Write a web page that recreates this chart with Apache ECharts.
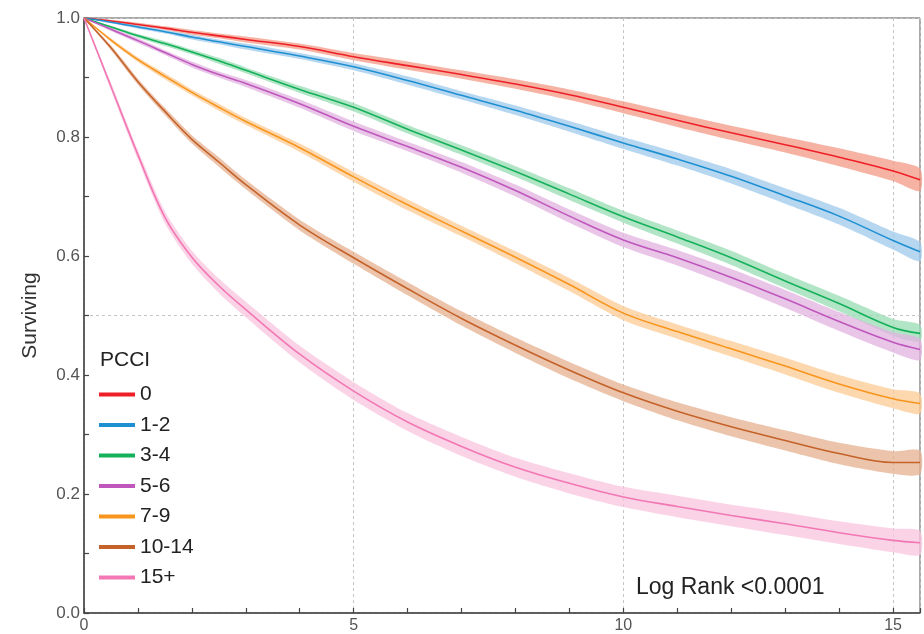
<!DOCTYPE html>
<html>
<head>
<meta charset="utf-8">
<script src="https://cdn.jsdelivr.net/npm/echarts@6/dist/echarts.min.js"></script>
<style>
html,body{margin:0;padding:0;background:#fff;}
#chart{width:924px;height:634px;}
</style>
</head>
<body>
<div id="chart"></div>
<script>
// Years of follow-up (x positions of the read-off points)
const xs = [0, 0.5, 1, 1.5, 2, 2.5, 3, 4, 5, 6, 7, 8, 9, 10, 11, 12, 13, 14, 15, 15.5];

// Group names (PCCI)
const groups = ['0', '1-2', '3-4', '5-6', '7-9', '10-14', '15+'];

// Survival estimates per group
const surv0   = [1, 0.995, 0.989, 0.983, 0.976, 0.970, 0.964, 0.952, 0.935, 0.920, 0.905, 0.889, 0.871, 0.850, 0.828, 0.807, 0.787, 0.766, 0.743, 0.728];
const surv12  = [1, 0.993, 0.985, 0.977, 0.968, 0.960, 0.952, 0.936, 0.918, 0.895, 0.870, 0.845, 0.818, 0.790, 0.763, 0.734, 0.701, 0.667, 0.626, 0.607];
const surv34  = [1, 0.985, 0.970, 0.957, 0.943, 0.928, 0.912, 0.880, 0.850, 0.813, 0.778, 0.742, 0.704, 0.666, 0.632, 0.597, 0.558, 0.520, 0.480, 0.470];
const surv56  = [1, 0.981, 0.962, 0.942, 0.922, 0.905, 0.890, 0.856, 0.818, 0.784, 0.749, 0.710, 0.667, 0.627, 0.597, 0.564, 0.528, 0.490, 0.455, 0.443];
const surv79  = [1, 0.963, 0.930, 0.902, 0.875, 0.850, 0.826, 0.782, 0.733, 0.686, 0.642, 0.598, 0.552, 0.504, 0.473, 0.444, 0.415, 0.385, 0.360, 0.352];
const surv1014= [1, 0.950, 0.893, 0.843, 0.796, 0.758, 0.720, 0.652, 0.597, 0.545, 0.495, 0.450, 0.408, 0.370, 0.339, 0.313, 0.290, 0.268, 0.253, 0.253];
const surv15p = [1, 0.885, 0.770, 0.665, 0.598, 0.550, 0.510, 0.435, 0.373, 0.321, 0.280, 0.245, 0.218, 0.195, 0.179, 0.164, 0.150, 0.135, 0.122, 0.118];

// Confidence-band half-widths per group
const ci0   = [0, 0.002, 0.003, 0.003, 0.004, 0.004, 0.005, 0.005, 0.006, 0.007, 0.007, 0.008, 0.009, 0.010, 0.011, 0.012, 0.013, 0.015, 0.017, 0.019];
const ci12  = [0, 0.002, 0.003, 0.003, 0.004, 0.004, 0.005, 0.005, 0.006, 0.007, 0.007, 0.008, 0.009, 0.010, 0.011, 0.012, 0.013, 0.014, 0.015, 0.016];
const ci34  = [0, 0.002, 0.003, 0.004, 0.004, 0.005, 0.005, 0.006, 0.007, 0.007, 0.008, 0.009, 0.010, 0.010, 0.011, 0.012, 0.012, 0.013, 0.014, 0.014];
const ci56  = [0, 0.003, 0.004, 0.004, 0.005, 0.005, 0.006, 0.007, 0.008, 0.008, 0.009, 0.010, 0.011, 0.012, 0.013, 0.014, 0.015, 0.016, 0.017, 0.018];
const ci79  = [0, 0.003, 0.004, 0.005, 0.005, 0.006, 0.006, 0.007, 0.008, 0.009, 0.009, 0.010, 0.011, 0.012, 0.012, 0.013, 0.014, 0.015, 0.016, 0.017];
const ci1014= [0, 0.004, 0.005, 0.006, 0.007, 0.008, 0.008, 0.009, 0.010, 0.011, 0.012, 0.013, 0.014, 0.014, 0.015, 0.016, 0.017, 0.018, 0.019, 0.020];
const ci15p = [0, 0.006, 0.008, 0.010, 0.011, 0.012, 0.013, 0.014, 0.015, 0.015, 0.016, 0.016, 0.017, 0.017, 0.018, 0.018, 0.019, 0.019, 0.020, 0.020];

const survAll = [surv0, surv12, surv34, surv56, surv79, surv1014, surv15p];
const ciAll = [ci0, ci12, ci34, ci56, ci79, ci1014, ci15p];
const colors = ['#ee1f26', '#1e90d2', '#14b05a', '#bf57bd', '#f8951d', '#c4622a', '#f277b4'];
const bandColors = ['#f39a86', '#9fc9ec', '#98dcb3', '#e1b2e0', '#fcc993', '#e6b08f', '#f9c4de'];

const FONT = '"Liberation Sans", Arial, Helvetica, sans-serif';

const chart = echarts.init(document.getElementById('chart'), null, {renderer: 'canvas'});

const series = [];
survAll.forEach((s, k) => {
  const ci = ciAll[k];
  series.push({
    type: 'custom',
    name: 'band' + k,
    silent: true,
    z: 1,
    data: [[0, 0]],
    renderItem: function (params, api) {
      const pts = [];
      for (let i = 0; i < xs.length; i++) pts.push(api.coord([xs[i], Math.min(1, s[i] + ci[i])]));
      for (let i = xs.length - 1; i >= 0; i--) pts.push(api.coord([xs[i], s[i] - ci[i]]));
      return {type: 'polygon', shape: {points: pts, smooth: 0.25}, style: {fill: bandColors[k], opacity: 0.75}};
    }
  });
});
survAll.forEach((s, k) => {
  series.push({
    type: 'line',
    name: groups[k],
    z: 3,
    showSymbol: false,
    symbol: 'none',
    smooth: 0.35,
    color: colors[k],
    lineStyle: {width: 1.6, color: colors[k]},
    data: xs.map((x, i) => [x, s[i]])
  });
});

const option = {
  animation: false,
  backgroundColor: '#fff',
  grid: {left: 84, right: 4, top: 18, bottom: 21, show: true, borderColor: '#555', borderWidth: 1, containLabel: false},
  xAxis: [
    {
      type: 'value', min: 0, max: 15.5, interval: 1,
      axisLine: {show: true, lineStyle: {color: '#444', width: 1.5}},
      axisTick: {show: true, inside: true, length: 5, lineStyle: {color: '#444', width: 1.2}},
      axisLabel: {
        color: '#555', fontSize: 16, fontFamily: FONT, margin: 5,
        formatter: v => (Math.abs(v % 5) < 1e-9 ? String(v) : '')
      },
      splitLine: {show: false}
    },
    {
      type: 'value', min: 0, max: 15.5, interval: 5, position: 'bottom',
      axisLine: {show: false}, axisTick: {show: false}, axisLabel: {show: false},
      splitLine: {show: true, lineStyle: {color: '#c4c4c4', type: [3, 3], width: 1}}
    }
  ],
  yAxis: [
    {
      type: 'value', min: 0, max: 1, interval: 0.1,
      name: 'Surviving', nameLocation: 'middle', nameGap: 43, nameRotate: 90,
      nameTextStyle: {color: '#333', fontSize: 21, fontFamily: FONT},
      axisLine: {show: true, lineStyle: {color: '#444', width: 1.5}},
      axisTick: {show: true, inside: true, length: 5, lineStyle: {color: '#444', width: 1.2}},
      axisLabel: {
        color: '#555', fontSize: 17, fontFamily: FONT, margin: 4,
        formatter: v => { const t = Math.round(v * 10); return t % 2 === 0 ? (t / 10).toFixed(1) : ''; }
      },
      splitLine: {show: false}
    },
    {
      type: 'value', min: 0, max: 1, interval: 0.5, position: 'left',
      axisLine: {show: false}, axisTick: {show: false}, axisLabel: {show: false},
      splitLine: {show: true, lineStyle: {color: '#c4c4c4', type: [3, 3], width: 1}}
    }
  ],
  legend: {
    data: groups,
    orient: 'vertical',
    left: 99, top: 384, padding: 0,
    icon: 'rect', itemWidth: 36, itemHeight: 4, itemGap: 9.5,
    textStyle: {color: '#222', fontSize: 21, fontFamily: FONT, lineHeight: 21}
  },
  graphic: [
    {type: 'text', left: 100, top: 350, style: {text: 'PCCI', fill: '#222', font: '21px ' + FONT}},
    {type: 'text', left: 636, top: 576, style: {text: 'Log Rank <0.0001', fill: '#222', font: '23px ' + FONT}}
  ],
  series: series
};
chart.setOption(option);
</script>
</body>
</html>
